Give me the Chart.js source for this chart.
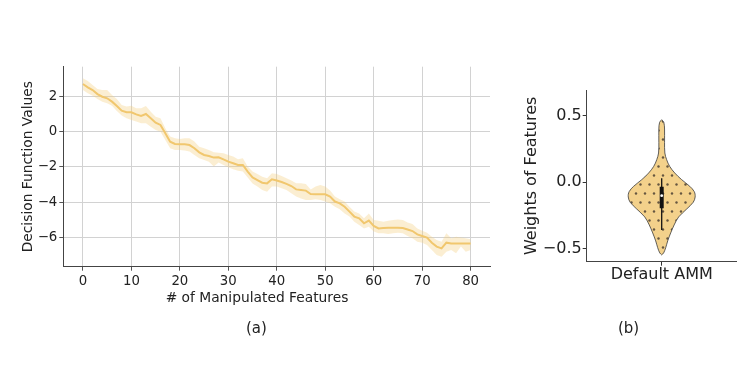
<!DOCTYPE html>
<html>
<head>
<meta charset="utf-8">
<script src="https://cdn.jsdelivr.net/npm/chart.js@4.4.0/dist/chart.umd.min.js"></script>
<style>
  html, body { margin: 0; padding: 0; background: #fff; }
  #page { position: relative; width: 747px; height: 377px; overflow: hidden; font-family: "DejaVu Sans", sans-serif; }
  #lineWrap { position: absolute; left: 0; top: 0; width: 510px; height: 377px; }
  #violinWrap { position: absolute; left: 510px; top: 0; width: 237px; height: 377px; }
  .panel { position: absolute; top: 319px; font-size: 15px; color: #222; }
  #xLabel { position: absolute; left: 157px; width: 200px; top: 289px; text-align: center; font-size: 13.8px; color: #222; white-space: nowrap; }
</style>
</head>
<body>
<div id="page">
  <div id="lineWrap"><canvas id="lineChart"></canvas></div>
  <div id="violinWrap"><canvas id="violinChart"></canvas></div>
  <div id="xLabel"># of Manipulated Features</div>
  <div class="panel" style="left:246px">(a)</div>
  <div class="panel" style="left:618px">(b)</div>
</div>
<script>
// (a) decision function vs. number of manipulated features
const featureCounts = [0, 1, 2, 3, 4, 5, 6, 7, 8, 9, 10, 11, 12, 13, 14, 15, 16, 17, 18, 19, 20,
  21, 22, 23, 24, 25, 26, 27, 28, 29, 30, 31, 32, 33, 34, 35, 36, 37, 38, 39, 40,
  41, 42, 43, 44, 45, 46, 47, 48, 49, 50, 51, 52, 53, 54, 55, 56, 57, 58, 59, 60,
  61, 62, 63, 64, 65, 66, 67, 68, 69, 70, 71, 72, 73, 74, 75, 76, 77, 78, 79, 80];
const meanValues = [2.70, 2.51, 2.36, 2.13, 1.98, 1.89, 1.70, 1.45, 1.19, 1.10, 1.10,
  0.98, 0.89, 1.00, 0.76, 0.51, 0.38, -0.09, -0.57, -0.70, -0.72,
  -0.72, -0.76, -0.94, -1.17, -1.32, -1.38, -1.47, -1.45, -1.57, -1.70,
  -1.79, -1.89, -1.89, -2.26, -2.59, -2.74, -2.89, -2.93, -2.70, -2.77,
  -2.85, -2.96, -3.08, -3.27, -3.30, -3.34, -3.53, -3.55, -3.55, -3.55,
  -3.68, -3.96, -4.06, -4.25, -4.53, -4.81, -4.91, -5.19, -5.04, -5.34,
  -5.48, -5.46, -5.44, -5.44, -5.44, -5.46, -5.54, -5.63, -5.82, -5.91,
  -6.00, -6.29, -6.51, -6.61, -6.29, -6.33, -6.33, -6.34, -6.34, -6.34];
const upperValues = [3.02, 2.87, 2.64, 2.42, 2.36, 2.36, 2.08, 1.85, 1.51, 1.42, 1.47,
  1.32, 1.32, 1.45, 1.13, 0.85, 0.76, 0.19, -0.28, -0.38, -0.42,
  -0.38, -0.38, -0.56, -0.85, -0.94, -1.04, -1.17, -1.19, -1.23, -1.32,
  -1.41, -1.57, -1.51, -1.98, -2.26, -2.40, -2.55, -2.64, -2.36, -2.40,
  -2.51, -2.64, -2.77, -2.92, -2.92, -2.96, -3.27, -3.11, -3.02, -3.11,
  -3.34, -3.68, -3.83, -3.96, -4.25, -4.53, -4.63, -4.91, -4.63, -5.00,
  -5.04, -5.10, -5.04, -5.00, -4.97, -5.00, -5.15, -5.23, -5.48, -5.61,
  -5.72, -5.95, -6.14, -6.23, -5.76, -6.04, -5.95, -5.99, -6.04, -6.10];
const lowerValues = [2.36, 2.17, 2.04, 1.85, 1.70, 1.61, 1.47, 1.17, 0.91, 0.76, 0.66,
  0.57, 0.47, 0.47, 0.28, 0.09, 0.00, -0.47, -0.94, -1.04, -1.04,
  -1.07, -1.13, -1.32, -1.51, -1.60, -1.70, -1.98, -1.75, -1.89, -2.02,
  -2.13, -2.21, -2.26, -2.59, -2.93, -3.11, -3.30, -3.40, -3.11, -3.11,
  -3.21, -3.30, -3.49, -3.68, -3.78, -3.87, -3.87, -3.83, -3.87, -3.96,
  -4.06, -4.25, -4.40, -4.63, -4.81, -5.10, -5.29, -5.48, -5.38, -5.66,
  -5.76, -5.76, -5.80, -5.76, -5.72, -5.76, -5.91, -6.04, -6.23, -6.29,
  -6.42, -6.70, -6.99, -7.08, -6.80, -6.70, -6.89, -6.51, -6.80, -6.70];
const xTicks = [0, 10, 20, 30, 40, 50, 60, 70, 80];
const yTicks = [-6, -4, -2, 0, 2];

// (b) violin of feature weights
const violinCategories = ["Default AMM"];
const violinLevels = [0.47, 0.45, 0.40, 0.30, 0.22, 0.17, 0.12, 0.07, 0.02, -0.03, -0.07,
  -0.11, -0.15, -0.20, -0.26, -0.32, -0.38, -0.44, -0.49, -0.53, -0.545];
const violinHalfWidths = [0, 0.014, 0.019, 0.019, 0.021, 0.033, 0.053, 0.087, 0.133, 0.187, 0.217,
  0.223, 0.21, 0.167, 0.113, 0.083, 0.06, 0.04, 0.027, 0.013, 0];
const boxQuartiles = [-0.0325, -0.195];
const whiskerRange = [0.03, -0.3575];
const medianValue = -0.10;
const violinTicks = [-0.5, 0, 0.5];

const FONT = "'DejaVu Sans', sans-serif";
const minus = (s) => String(s).replace("-", "\u2212");

function pts(xs, ys) {
  return xs.map((x, i) => ({ x: x, y: ys[i] }));
}

new Chart(document.getElementById("lineChart"), {
  type: "line",
  data: {
    datasets: [
      {
        data: pts(featureCounts, upperValues),
        borderColor: "rgba(0,0,0,0)",
        borderWidth: 0,
        pointRadius: 0,
        fill: false,
        order: 2
      },
      {
        data: pts(featureCounts, lowerValues),
        borderColor: "rgba(0,0,0,0)",
        borderWidth: 0,
        pointRadius: 0,
        backgroundColor: "rgba(244,205,125,0.35)",
        fill: "-1",
        order: 1
      },
      {
        data: pts(featureCounts, meanValues),
        borderColor: "#F1C76E",
        borderWidth: 2,
        pointRadius: 0,
        fill: false,
        order: 0
      }
    ]
  },
  options: {
    responsive: true,
    maintainAspectRatio: false,
    animation: false,
    layout: { padding: { left: 0, top: 66.7, right: 20, bottom: 70.3 } },
    plugins: { legend: { display: false }, tooltip: { enabled: false } },
    scales: {
      x: {
        type: "linear",
        min: -4.05,
        max: 84,
        afterBuildTicks: (s) => { s.ticks = xTicks.map((v) => ({ value: v })); },
        afterFit: (s) => { s.height = 40; },
        grid: { color: "#d2d2d2", lineWidth: 1, tickLength: 4, tickColor: "#555" },
        border: { color: "#444", width: 1 },
        ticks: { color: "#222", font: { family: FONT, size: 13.3 }, padding: 3, maxRotation: 0 }
      },
      y: {
        min: -7.65,
        max: 3.68,
        afterBuildTicks: (s) => { s.ticks = yTicks.map((v) => ({ value: v })); },
        afterFit: (s) => { s.width = 63.3; },
        grid: { color: "#d2d2d2", lineWidth: 1, tickLength: 4, tickColor: "#555" },
        border: { color: "#444", width: 1 },
        ticks: { color: "#222", font: { family: FONT, size: 13.3 }, padding: 2,
          callback: (v) => minus(v) },
        title: { display: true, text: "Decision Function Values", color: "#222",
          font: { family: FONT, size: 13.8 }, padding: { top: 19.7, bottom: 0 } }
      }
    }
  }
});

// dotted hatch used inside the violin
function dotPattern() {
  const c = document.createElement("canvas");
  c.width = 9;
  c.height = 18;
  const g = c.getContext("2d");
  g.fillStyle = "#F3D18B";
  g.fillRect(0, 0, 9, 18);
  g.fillStyle = "rgba(85,72,55,0.9)";
  [[4.5, 4.5], [0, 13.5], [9, 13.5]].forEach(([x, y]) => {
    g.beginPath();
    g.arc(x, y, 1.2, 0, Math.PI * 2);
    g.fill();
  });
  return g.createPattern(c, "repeat");
}

const outline = violinLevels.map((v, i) => ({ x: violinHalfWidths[i], y: v }))
  .concat(violinLevels.slice().reverse().map((v, i) => ({
    x: -violinHalfWidths[violinHalfWidths.length - 1 - i], y: v })));

new Chart(document.getElementById("violinChart"), {
  type: "scatter",
  data: {
    datasets: [
      {
        data: outline,
        showLine: true,
        tension: 0.35,
        borderColor: "#3a3a3a",
        borderWidth: 0.8,
        pointRadius: 0,
        backgroundColor: dotPattern(),
        fill: "shape",
        order: 3
      },
      {
        data: [{ x: 0, y: whiskerRange[0] }, { x: 0, y: whiskerRange[1] }],
        showLine: true,
        borderColor: "#111",
        borderWidth: 1.3,
        pointRadius: 0,
        order: 2
      },
      {
        data: [{ x: 0, y: boxQuartiles[0] }, { x: 0, y: boxQuartiles[1] }],
        showLine: true,
        borderColor: "#111",
        borderWidth: 4,
        borderCapStyle: "butt",
        pointRadius: 0,
        order: 1
      },
      {
        data: [{ x: 0, y: medianValue }],
        pointRadius: 1.4,
        pointBackgroundColor: "#fff",
        pointBorderWidth: 0,
        order: 0
      }
    ]
  },
  options: {
    responsive: true,
    maintainAspectRatio: false,
    animation: false,
    layout: { padding: { left: 0, top: 90, right: 10.3, bottom: 85.3 } },
    plugins: { legend: { display: false }, tooltip: { enabled: false } },
    scales: {
      x: {
        type: "linear",
        min: -0.5,
        max: 0.5,
        afterBuildTicks: (s) => { s.ticks = [{ value: 0 }]; },
        afterFit: (s) => { s.height = 30; },
        grid: { display: true, drawOnChartArea: false, tickLength: 4, tickColor: "#333" },
        border: { color: "#444", width: 1 },
        ticks: { color: "#222", font: { family: FONT, size: 16 }, padding: 0, maxRotation: 0,
          callback: () => violinCategories[0] }
      },
      y: {
        min: -0.596,
        max: 0.693,
        afterBuildTicks: (s) => { s.ticks = violinTicks.map((v) => ({ value: v })); },
        afterFit: (s) => { s.width = 76.7; },
        grid: { display: true, drawOnChartArea: false, tickLength: 4, tickColor: "#333" },
        border: { color: "#444", width: 1 },
        ticks: { color: "#222", font: { family: FONT, size: 16 }, padding: 1,
          callback: (v) => minus(Number(v).toFixed(1)) },
        title: { display: true, text: "Weights of Features", color: "#222",
          font: { family: FONT, size: 16 }, padding: { top: 12.7, bottom: 0 } }
      }
    }
  }
});
</script>
</body>
</html>
